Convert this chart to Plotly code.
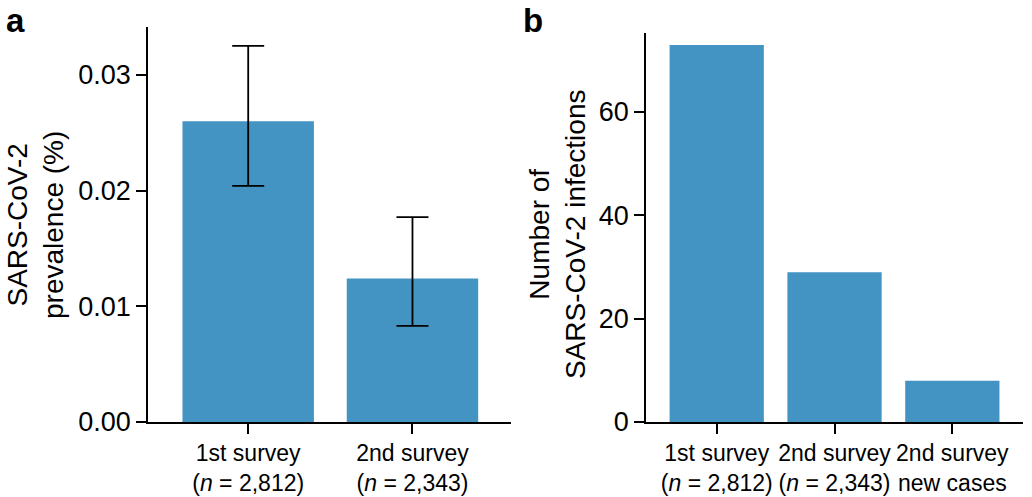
import plotly.graph_objects as go

# ---- data ----
cats_a = ["1st survey<br>(<i>n</i> = 2,812)", "2nd survey<br>(<i>n</i> = 2,343)"]
prevalence = [0.0260, 0.0124]
ci_low = [0.0204, 0.0083]
ci_high = [0.0325, 0.0177]

cats_b = ["1st survey<br>(<i>n</i> = 2,812)", "2nd survey<br>(<i>n</i> = 2,343)", "2nd survey<br>new cases"]
infections = [73, 29, 8]

y_ticks_a = [0, 0.01, 0.02, 0.03]
y_labels_a = ["0.00", "0.01", "0.02", "0.03"]
y_ticks_b = [0, 20, 40, 60]

BAR = "#4393C3"
FONT = "Liberation Sans, Arial, Helvetica, sans-serif"

err_plus = [h - v for h, v in zip(ci_high, prevalence)]
err_minus = [v - l for v, l in zip(prevalence, ci_low)]

fig = go.Figure()
fig.add_trace(go.Bar(
    x=cats_a, y=prevalence, width=0.8, marker=dict(color=BAR, line=dict(width=0)),
    error_y=dict(type="data", symmetric=False, array=err_plus, arrayminus=err_minus,
                 color="black", thickness=1.8, width=16),
    xaxis="x", yaxis="y", showlegend=False, hoverinfo="skip",
))
fig.add_trace(go.Bar(
    x=cats_b, y=infections, width=0.8, marker=dict(color=BAR, line=dict(width=0)),
    xaxis="x2", yaxis="y2", showlegend=False, hoverinfo="skip",
))

common = dict(showline=True, linecolor="black", linewidth=1.6, ticks="outside",
              ticklen=10, tickwidth=1.6, tickcolor="black", showgrid=False,
              zeroline=False, automargin=False)
xfont = dict(family=FONT, size=23, color="black")
yfont = dict(family=FONT, size=27, color="black")
tfont = dict(family=FONT, size=28, color="black")
lfont = dict(family=FONT, size=33, color="black")

fig.update_layout(
    width=1032, height=497, margin=dict(l=0, r=0, t=0, b=0),
    plot_bgcolor="white", paper_bgcolor="white",
    font=dict(family=FONT, color="black"),
    xaxis=dict(domain=[0.1434, 0.4952], range=[-0.61, 1.6], anchor="y", tickangle=0,
               tickfont=xfont, **common),
    yaxis=dict(domain=[0.1509, 0.9457], range=[0, 0.03414], anchor="x",
               tickvals=y_ticks_a, ticktext=y_labels_a, tickfont=yfont, **common),
    xaxis2=dict(domain=[0.626, 0.9913], range=[-0.6, 2.6], anchor="y2", tickangle=0,
                tickfont=xfont, **common),
    yaxis2=dict(domain=[0.1509, 0.9336], range=[0, 75.3], anchor="x2",
                tickvals=y_ticks_b, tickfont=yfont, **common),
    annotations=[
        dict(text="<b>a</b>", x=4 / 1032, y=1.0, xref="paper", yref="paper", xanchor="left",
             yanchor="top", showarrow=False, font=lfont),
        dict(text="<b>b</b>", x=521 / 1032, y=1.0, xref="paper", yref="paper", xanchor="left",
             yanchor="top", showarrow=False, font=lfont),
        dict(text="SARS-CoV-2<br>prevalence (%)", x=36 / 1032, y=(497 - 225) / 497,
             xref="paper", yref="paper", textangle=-90, showarrow=False,
             xanchor="center", yanchor="middle", font=tfont),
        dict(text="Number of<br>SARS-CoV-2 infections", x=557 / 1032, y=(497 - 235) / 497,
             xref="paper", yref="paper", textangle=-90, showarrow=False,
             xanchor="center", yanchor="middle", font=tfont),
    ],
)

fig.write_html("out.html", config={"displayModeBar": False},
               post_script="document.body.style.margin='0px';")
